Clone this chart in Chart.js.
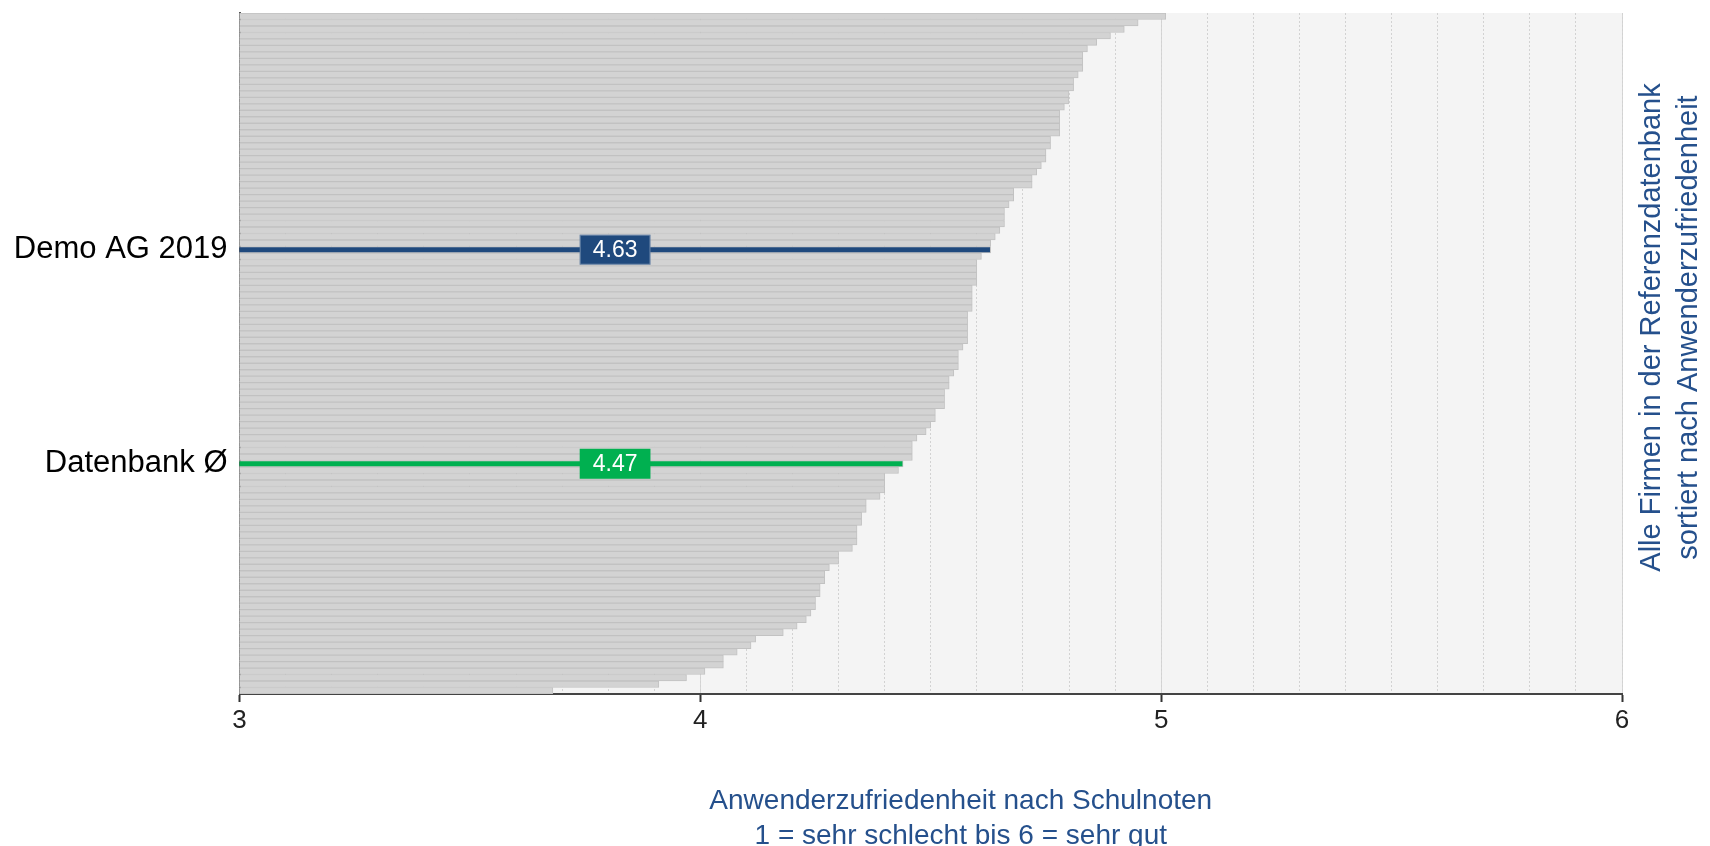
<!DOCTYPE html>
<html>
<head>
<meta charset="utf-8">
<script src="https://cdn.jsdelivr.net/npm/chart.js@4.4.1/dist/chart.umd.min.js"></script>
<style>
  html, body { margin: 0; padding: 0; background: #fff; }
</style>
</head>
<body>
<canvas id="chart" width="1710" height="846"></canvas>
<script>
// all companies, sorted by satisfaction (top = best)
const scores = [
  5.01, 4.95, 4.92, 4.89, 4.86, 4.84, 4.83, 4.83, 4.83, 4.82,
  4.81, 4.81, 4.80, 4.80, 4.79, 4.78, 4.78, 4.78, 4.78, 4.76,
  4.76, 4.75, 4.75, 4.74, 4.73, 4.72, 4.72, 4.68, 4.68, 4.67,
  4.66, 4.66, 4.66, 4.65, 4.64, 4.63, 4.63, 4.61, 4.60, 4.60,
  4.60, 4.60, 4.59, 4.59, 4.59, 4.59, 4.58, 4.58, 4.58, 4.58,
  4.58, 4.57, 4.56, 4.56, 4.56, 4.55, 4.54, 4.54, 4.53, 4.53,
  4.53, 4.51, 4.51, 4.50, 4.49, 4.47, 4.46, 4.46, 4.46, 4.44,
  4.43, 4.40, 4.40, 4.40, 4.39, 4.36, 4.36, 4.35, 4.35, 4.34,
  4.34, 4.34, 4.33, 4.30, 4.30, 4.28, 4.27, 4.27, 4.26, 4.26,
  4.25, 4.25, 4.24, 4.23, 4.21, 4.18, 4.12, 4.11, 4.08, 4.05,
  4.05, 4.01, 3.97, 3.91, 3.68
];

const highlightIndex = [36, 69];
const highlightNames = ['Demo AG 2019', 'Datenbank Ø'];
const highlightText = ['4.63', '4.47'];

const xMin = 3;
const xMax = 6;
const xTicks = [3, 4, 5, 6];
const xTitle = ['Anwenderzufriedenheit nach Schulnoten', '1 = sehr schlecht bis 6 = sehr gut'];
const sideTitle = ['Alle Firmen in der Referenzdatenbank', 'sortiert nach Anwenderzufriedenheit'];

const FONT = '"Liberation Sans", Arial, sans-serif';
const BLUE_TEXT = '#25508c';
const highlightColors = ['#1f497d', '#00b050'];
const labelAt = 3.815;

const rowLabels = scores.map((v, i) => {
    const k = highlightIndex.indexOf(i);
    return k >= 0 ? highlightNames[k] : '';
});

const barColors = scores.map((v, i) => {
    const k = highlightIndex.indexOf(i);
    return k >= 0 ? highlightColors[k] : '#d3d3d3';
});

const plotBackground = {
    id: 'plotBackground',
    beforeDraw(chart) {
        const { ctx, chartArea: a } = chart;
        ctx.save();
        ctx.fillStyle = '#f4f4f4';
        ctx.fillRect(a.left, a.top, a.right - a.left, a.bottom - a.top);
        ctx.restore();
    }
};

const valueBoxes = {
    id: 'valueBoxes',
    afterDatasetsDraw(chart) {
        const { ctx, scales } = chart;
        ctx.save();
        ctx.font = '23px ' + FONT;
        ctx.textAlign = 'center';
        ctx.textBaseline = 'middle';
        highlightIndex.forEach((row, k) => {
            const cx = scales.x.getPixelForValue(labelAt);
            const cy = scales.y.getPixelForValue(row);
            const w = ctx.measureText(highlightText[k]).width + 26;
            const h = 30;
            ctx.fillStyle = highlightColors[k];
            ctx.fillRect(cx - w / 2, cy - h / 2, w, h);
            if (k === 0) {
                ctx.strokeStyle = 'rgba(255,255,255,0.35)';
                ctx.lineWidth = 1;
                ctx.strokeRect(cx - w / 2 + 0.5, cy - h / 2 + 0.5, w - 1, h - 1);
            }
            ctx.fillStyle = '#fff';
            ctx.fillText(highlightText[k], cx, cy + 1);
        });
        ctx.restore();
    }
};

const outerTitles = {
    id: 'outerTitles',
    afterDraw(chart) {
        const { ctx, chartArea: a } = chart;
        ctx.save();
        ctx.fillStyle = BLUE_TEXT;
        ctx.textAlign = 'center';
        ctx.textBaseline = 'middle';

        ctx.font = '28px ' + FONT;
        const cx = (a.left + a.right) / 2 + 30;
        xTitle.forEach((t, i) => ctx.fillText(t, cx, a.bottom + 107 + i * 35));

        ctx.font = '29px ' + FONT;
        const cy = (a.top + a.bottom) / 2 - 26;
        sideTitle.forEach((t, i) => {
            ctx.save();
            ctx.translate(a.right + 30 + i * 37, cy);
            ctx.rotate(-Math.PI / 2);
            ctx.fillText(t, 0, 0);
            ctx.restore();
        });
        ctx.restore();
    }
};

const chart = new Chart(document.getElementById('chart'), {
    type: 'bar',
    data: {
        labels: rowLabels,
        datasets: [{
            data: scores,
            backgroundColor: barColors,
            borderColor: '#c2c2c2',
            borderWidth: 1,
            barPercentage: 1,
            categoryPercentage: 1
        }]
    },
    options: {
        indexAxis: 'y',
        responsive: false,
        animation: false,
        devicePixelRatio: 1,
        layout: { padding: { left: 0, top: 13, right: 88, bottom: 0 } },
        plugins: {
            legend: { display: false },
            tooltip: { enabled: false }
        },
        scales: {
            y: {
                type: 'category',
                offset: true,
                grid: { display: false, drawTicks: false },
                border: { color: '#555', width: 2 },
                ticks: {
                    autoSkip: false,
                    padding: 12,
                    color: '#000',
                    font: { family: FONT, size: 31 }
                },
                afterFit: (s) => {
                    s.width = 239.5;
                    s.paddingTop = 0;
                    s.paddingBottom = 0;
                }
            },
            x: {
                type: 'linear',
                position: 'bottom',
                min: xMin,
                max: xMax,
                grid: {
                    color: '#d6d6d6',
                    lineWidth: 1,
                    drawTicks: true,
                    tickLength: 8,
                    tickColor: '#333',
                    tickWidth: 2
                },
                border: { color: '#444', width: 2 },
                ticks: {
                    stepSize: 1,
                    padding: 3,
                    color: '#222',
                    font: { family: FONT, size: 26 },
                    callback: (v) => xTicks.includes(v) ? String(v) : ''
                },
                afterFit: (s) => { s.height = 152 }
            },
            xMinor: {
                type: 'linear',
                position: 'top',
                min: xMin,
                max: xMax,
                grid: { color: '#d2d2d2', lineWidth: 1, drawTicks: false },
                border: { display: false, dash: [2, 2] },
                ticks: { stepSize: 0.1, display: false },
                afterFit: (s) => { s.height = 0 }
            }
        }
    },
    plugins: [plotBackground, valueBoxes, outerTitles]
});
</script>
</body>
</html>
